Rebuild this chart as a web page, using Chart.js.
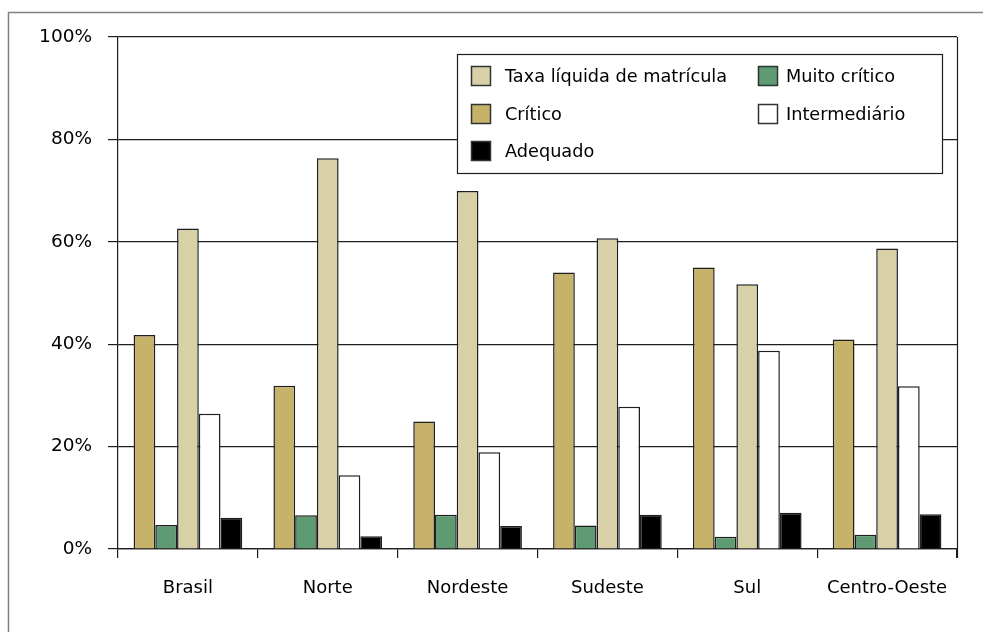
<!DOCTYPE html>
<html lang="pt-BR">
<head>
<meta charset="utf-8">
<title>Taxa líquida de matrícula e níveis de desempenho por região</title>
<script src="https://cdn.jsdelivr.net/npm/chart.js@4.4.1/dist/chart.umd.min.js"></script>
<style>
  html, body { margin: 0; padding: 0; background: #fff; }
  #wrap { width: 983px; height: 632px; }
</style>
</head>
<body>
<div id="wrap"><canvas id="chart" width="983" height="632"></canvas></div>
<script>
// Regions and values (%) per series
const regioes = ['Brasil', 'Norte', 'Nordeste', 'Sudeste', 'Sul', 'Centro-Oeste'];
const critico = [41.8, 31.9, 24.9, 54.0, 55.0, 40.9];
const muitoCritico = [4.7, 6.6, 6.7, 4.6, 2.4, 2.8];
const taxaLiquida = [62.6, 76.3, 69.9, 60.7, 51.7, 58.7];
const intermediario = [26.4, 14.4, 18.9, 27.8, 38.7, 31.8];
const adequado = [6.1, 2.5, 4.5, 6.7, 7.1, 6.8];
const yTicks = [0, 20, 40, 60, 80, 100];

const FONT = "'DejaVu Sans', Verdana, sans-serif";
const LINE = '#1e1e1e';

// Outer frame and right edge of the plot
const framePlugin = {
  id: 'frame',
  beforeDraw(chart) {
    const ctx = chart.ctx;
    ctx.save();
    ctx.strokeStyle = '#808080';
    ctx.lineWidth = 1.5;
    ctx.strokeRect(8.5, 12.5, 2000, 2000);
    ctx.restore();
  },
  afterDraw(chart) {
    const { ctx, chartArea } = chart;
    ctx.save();
    ctx.strokeStyle = LINE;
    ctx.lineWidth = 1.2;
    const x = Math.round(chartArea.right) + 0.5;
    ctx.beginPath();
    ctx.moveTo(x, chartArea.top);
    ctx.lineTo(x, chartArea.bottom + 9);
    ctx.stroke();
    ctx.restore();
  }
};

// Two-column boxed legend inside the plot
const legendPlugin = {
  id: 'boxLegend',
  afterDraw(chart) {
    const ctx = chart.ctx;
    const order = [2, 1, 0, 3, 4];
    const box = { x: 457, y: 54, w: 485, h: 119 };
    const colX = [471, 758];
    const textX = [505, 786];
    const rowY = [76, 114, 151];
    ctx.save();
    ctx.fillStyle = '#fff';
    ctx.fillRect(box.x, box.y, box.w, box.h);
    ctx.strokeStyle = LINE;
    ctx.lineWidth = 1.2;
    ctx.strokeRect(box.x + 0.5, box.y + 0.5, box.w, box.h);
    ctx.font = '17.7px ' + FONT;
    ctx.textBaseline = 'middle';
    order.forEach((di, i) => {
      const ds = chart.data.datasets[di];
      const col = i % 2;
      const row = Math.floor(i / 2);
      const sx = colX[col], sy = rowY[row] - 10;
      ctx.fillStyle = ds.backgroundColor;
      ctx.fillRect(sx, sy, 20, 20);
      ctx.strokeStyle = '#333';
      ctx.lineWidth = 1.5;
      ctx.strokeRect(sx + 0.5, sy + 0.5, 19, 19);
      ctx.fillStyle = '#000';
      ctx.fillText(ds.label, textX[col], rowY[row] + 1);
    });
    ctx.restore();
  }
};

function serie(label, data, color) {
  return {
    label,
    data,
    backgroundColor: color,
    borderColor: LINE,
    borderWidth: 1.5,
    categoryPercentage: 0.777,
    barPercentage: 1
  };
}

new Chart(document.getElementById('chart').getContext('2d'), {
  type: 'bar',
  data: {
    labels: regioes,
    datasets: [
      serie('Crítico', critico, '#C7B26A'),
      serie('Muito crítico', muitoCritico, '#5E9A72'),
      serie('Taxa líquida de matrícula', taxaLiquida, '#D8D1A7'),
      serie('Intermediário', intermediario, '#FFFFFF'),
      serie('Adequado', adequado, '#000000')
    ]
  },
  options: {
    responsive: false,
    animation: false,
    layout: { padding: { top: 37, right: 26, left: 0, bottom: 0 } },
    plugins: {
      legend: { display: false },
      tooltip: { enabled: false }
    },
    scales: {
      x: {
        offset: true,
        grid: {
          offset: true,
          drawOnChartArea: false,
          drawTicks: true,
          tickLength: 9,
          color: LINE,
          lineWidth: 1.2
        },
        border: { color: LINE, width: 1.2 },
        ticks: {
          color: '#000',
          padding: 20,
          font: { family: FONT, size: 18 }
        },
        afterFit(scale) { scale.height = 83; }
      },
      y: {
        min: 0,
        max: 100,
        afterBuildTicks(scale) {
          scale.ticks = yTicks.map(v => ({ value: v }));
        },
        grid: {
          color: LINE,
          lineWidth: 1.2,
          tickLength: 10
        },
        border: { color: LINE, width: 1.2 },
        ticks: {
          color: '#000',
          padding: 16,
          font: { family: FONT, size: 18.5 },
          callback: v => v + '%'
        },
        afterFit(scale) { scale.width = 118; }
      }
    }
  },
  plugins: [framePlugin, legendPlugin]
});
</script>
</body>
</html>
